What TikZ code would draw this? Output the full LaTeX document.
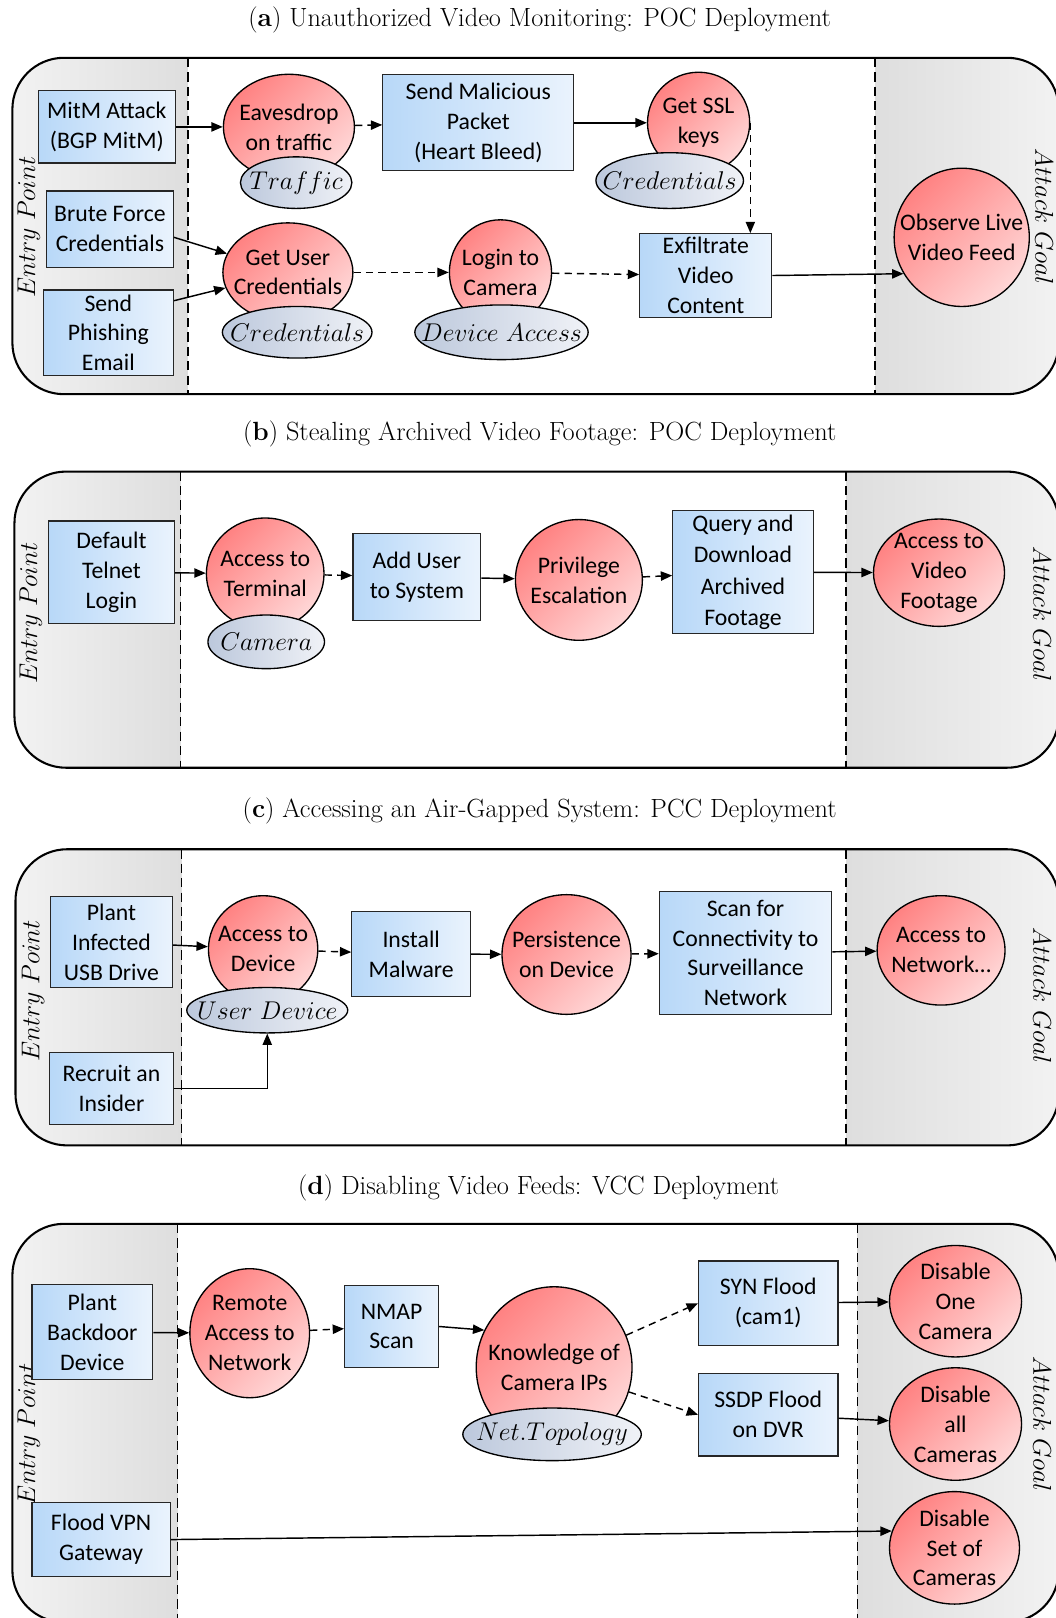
\documentclass[tikz,border=0pt]{standalone}
\usepackage{fontspec}
\setsansfont{Carlito}
\usepackage{tikz}
\usetikzlibrary{arrows.meta, positioning, shapes.geometric}
\definecolor{boxblueL}{RGB}{184, 216, 248}
\definecolor{boxblueR}{RGB}{234, 243, 253}
\definecolor{goalredA}{RGB}{255, 130, 130}
\definecolor{goalredB}{RGB}{255, 214, 214}
\definecolor{assetL}{RGB}{188, 200, 220}
\definecolor{assetR}{RGB}{240, 242, 247}
\definecolor{bgdark}{RGB}{222, 222, 222}
\definecolor{bglight}{RGB}{242, 242, 242}

\begin{document}
\begin{tikzpicture}[x=1pt, y=-1pt,
    stepbox/.style={rectangle, draw=black!85, line width=1.2pt, left color=boxblueL, right color=boxblueR, align=center, inner sep=0pt, font=\sffamily\fontsize{23}{29}\selectfont},
    goalnode/.style={ellipse, draw=black, line width=1.3pt, top color=goalredA, bottom color=goalredB, shading angle=45, align=center, inner sep=-25pt, font=\sffamily\fontsize{23}{29}\selectfont},
    assetnode/.style={ellipse, draw=black, line width=1.3pt, left color=assetL, right color=assetR, inner sep=-25pt, font=\fontsize{24}{29}\selectfont},
    dims/.style 2 args={minimum width=#1pt, minimum height=#2pt},
    arrow/.style={-{Triangle[length=11pt, width=9pt]}, line width=1.4pt},
    dasharrow/.style={arrow, dash pattern=on 7pt off 5pt},
    divider/.style={line width=1.5pt, dash pattern=on 9pt off 5pt},
    paneltitle/.style={font=\fontsize{25.5}{30}\selectfont\addfontfeature{LetterSpace=2}},
    sidelabel/.style={font=\fontsize{24}{29}\selectfont}
]
\useasboundingbox (0,0) rectangle (1023,1568);

% Panel frames: entry point zone, attack zone, goal zone
\foreach \ptop/\pbot/\pleft/\dleft/\dright in {56/382/12/182/848, 457/744/14/175/820, 823/1110/15/176/820, 1186/1572/12/172/831} {
    \begin{scope}
        \clip[rounded corners=50pt] (\pleft,\ptop) rectangle (1026,\pbot);
        \fill[white] (\pleft,\ptop) rectangle (1026,\pbot);
        \shade[left color=bglight, right color=bgdark] (\pleft,\ptop) rectangle (\dleft,\pbot);
        \shade[left color=bgdark, right color=bglight] (\dright,\ptop) rectangle (1026,\pbot);
    \end{scope}
    \draw[line width=2pt, rounded corners=50pt] (\pleft,\ptop) rectangle (1026,\pbot);
    \draw[divider] (\dleft,\ptop) -- (\dleft,\pbot);
    \draw[divider] (\dright,\ptop) -- (\dright,\pbot);
}

% (a) Unauthorized video monitoring
\node[paneltitle] (titlea) at (523,19) {(\textbf{a}) Unauthorized Video Monitoring: POC Deployment};
\node[sidelabel, rotate=90] (entrya) at (28,220) {$Entry\ Point$};
\node[sidelabel, rotate=-90] (goala) at (1012,210) {$Attack\ Goal$};

\node[stepbox, dims={133}{70}] (mitm) at (103.5,123) {MitM Attack\\(BGP MitM)};
\node[stepbox, dims={123}{74}] (brute) at (106.5,222) {Brute Force\\Credentials};
\node[stepbox, dims={126}{83}] (phish) at (105,322.5) {Send\\Phishing\\Email};
\node[goalnode, dims={127}{102}] (eaves) at (280,123) {Eavesdrop\\on traffic};
\node[assetnode, dims={108}{50}] (traffic) at (287,177) {$Traffic$};
\node[stepbox, dims={185}{93}] (malic) at (463.5,119) {Send Malicious\\Packet\\(Heart Bleed)};
\node[goalnode, dims={99}{98}] (ssl) at (677,119) {Get SSL\\keys};
\node[assetnode, dims={143}{54}] (credsa) at (649,175) {$Credentials$};
\node[stepbox, dims={128}{81}] (exfil) at (684,267) {Exfiltrate\\Video\\Content};
\node[goalnode, dims={131}{134}] (observe) at (932,230) {Observe Live\\Video Feed};
\node[goalnode, dims={126}{96}] (getuser) at (279,264) {Get User\\Credentials};
\node[assetnode, dims={145}{50}] (credsb) at (288,322) {$Credentials$};
\node[goalnode, dims={99}{102}] (login) at (485,264) {Login to\\Camera};
\node[assetnode, dims={168}{53}] (devacc) at (486,322) {$Device\ Access$};

\draw[arrow] (mitm) -- (eaves);
\draw[dasharrow] (eaves) -- (malic);
\draw[arrow] (malic) -- (ssl);
\draw[dasharrow] (ssl.east) -- (ssl.east |- exfil.north);
\draw[arrow] (exfil.east) -- (observe.212);
\draw[arrow] ([yshift=-8pt]brute.east) -- (getuser);
\draw[arrow] ([yshift=-11pt]phish.north east) -- (getuser);
\draw[dasharrow] (getuser) -- (login);
\draw[dasharrow] (login) -- (exfil);

% (b) Stealing archived video footage
\node[paneltitle] (titleb) at (523,421) {(\textbf{b}) Stealing Archived Video Footage: POC Deployment};
\node[sidelabel, rotate=90] (entryb) at (30,594) {$Entry\ Point$};
\node[sidelabel, rotate=-90] (goalb) at (1010,595) {$Attack\ Goal$};

\node[stepbox, dims={122}{99}] (telnet) at (108,554.5) {Default\\Telnet\\Login};
\node[goalnode, dims={114}{108}] (terminal) at (257,556) {Access to\\Terminal};
\node[assetnode, dims={113}{52}] (camera) at (258,622) {$Camera$};
\node[stepbox, dims={124}{84}] (adduser) at (404,559) {Add User\\to System};
\node[goalnode, dims={123}{117}] (privesc) at (561,562) {Privilege\\Escalation};
\node[stepbox, dims={136}{119}, font=\sffamily\fontsize{23}{30.5}\selectfont] (query) at (720,554.5) {Query and\\Download\\Archived\\Footage};
\node[goalnode, dims={127}{104}] (footage) at (910,555) {Access to\\Video\\Footage};

\draw[arrow] (telnet) -- (terminal);
\draw[dasharrow] (terminal) -- (adduser);
\draw[arrow] (adduser) -- (privesc);
\draw[dasharrow] (privesc) -- (query);
\draw[arrow] (query) -- (footage);

% (c) Accessing an air-gapped system
\node[paneltitle] (titlec) at (523,786) {(\textbf{c}) Accessing an Air-Gapped System: PCC Deployment};
\node[sidelabel, rotate=90] (entryc) at (32,960) {$Entry\ Point$};
\node[sidelabel, rotate=-90] (goalc) at (1010,965) {$Attack\ Goal$};

\node[stepbox, dims={118}{88}] (usb) at (108,913) {Plant\\Infected\\USB Drive};
\node[stepbox, dims={120}{70}] (insider) at (108,1055) {Recruit an\\Insider};
\node[goalnode, dims={106}{104}] (accdev) at (255,920) {Access to\\Device};
\node[assetnode, dims={156}{44}] (userdev) at (259,979) {$User\ Device$};
\node[stepbox, dims={115}{83}] (malware) at (398.5,924.5) {Install\\Malware};
\node[goalnode, dims={125}{116}] (persist) at (549,925) {Persistence\\on Device};
\node[stepbox, dims={167}{119}] (scan) at (722.5,923.5) {Scan for\\Connectivity to\\Surveillance\\Network};
\node[goalnode, dims={124}{106}] (accnet) at (912,921) {Access to\\Network\ldots};

\draw[arrow] (usb) -- (accdev);
\draw[arrow] (insider.east) -| (userdev.south);
\draw[dasharrow] (accdev) -- (malware);
\draw[arrow] (malware) -- (persist);
\draw[dasharrow] (persist) -- (scan);
\draw[arrow] (scan) -- (accnet);

% (d) Disabling video feeds
\node[paneltitle] (titled) at (522,1151) {(\textbf{d}) Disabling Video Feeds: VCC Deployment};
\node[sidelabel, rotate=90] (entryd) at (28,1390) {$Entry\ Point$};
\node[sidelabel, rotate=-90] (goald) at (1010,1380) {$Attack\ Goal$};

\node[stepbox, dims={117}{92}] (backdoor) at (89.5,1291) {Plant\\Backdoor\\Device};
\node[stepbox, dims={134}{72}] (vpn) at (98,1492) {Flood VPN\\Gateway};
\node[goalnode, dims={116}{125}] (remote) at (242,1292) {Remote\\Access to\\Network};
\node[stepbox, dims={91}{79}] (nmap) at (379.5,1285.5) {NMAP\\Scan};
\node[goalnode, dims={151}{156}] (knowip) at (537,1325) {Knowledge of\\Camera IPs};
\node[assetnode, dims={173}{51}] (nettopo) at (535,1390) {$Net.Topology$};
\node[stepbox, dims={135}{82}] (synflood) at (744.5,1263) {SYN Flood\\(cam1)};
\node[stepbox, dims={135}{80}] (ssdp) at (744.5,1371) {SSDP Flood\\on DVR};
\node[goalnode, dims={128}{108}] (disone) at (926,1261) {Disable\\One\\Camera};
\node[goalnode, dims={128}{109}] (disall) at (926,1380) {Disable\\all\\Cameras};
\node[goalnode, dims={126}{109}] (disset) at (925,1500) {Disable\\Set of\\Cameras};

\draw[arrow] (backdoor) -- (remote);
\draw[dasharrow] (remote) -- (nmap);
\draw[arrow] (nmap.east) -- (knowip.152);
\draw[dasharrow] (knowip) -- (synflood.west);
\draw[dasharrow] (knowip) -- (ssdp.west);
\draw[arrow] (synflood) -- (disone);
\draw[arrow] (ssdp) -- (disall);
\draw[arrow] (vpn.east) -- (disset.165);

\end{tikzpicture}
\end{document}
